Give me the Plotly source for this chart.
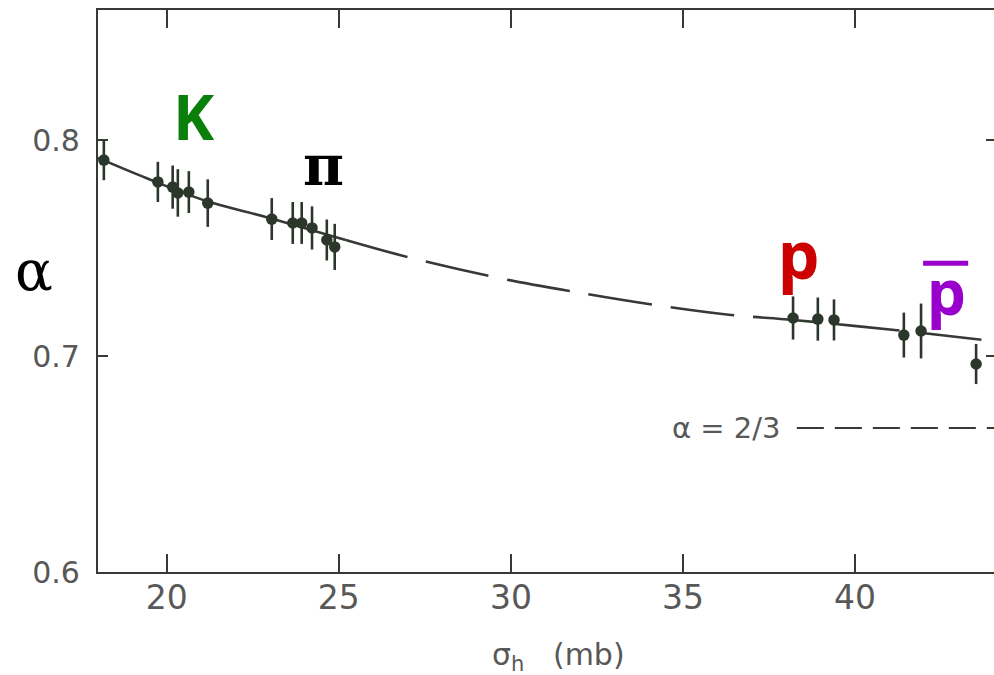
import plotly.graph_objects as go

# ---- data ----
k_x = [18.17, 19.74, 20.17, 20.32, 20.64, 21.19]
k_y = [0.7907, 0.7806, 0.7782, 0.7755, 0.7759, 0.7708]
k_err = [0.0093, 0.0093, 0.0100, 0.0110, 0.0097, 0.0110]

pi_x = [23.05, 23.66, 23.92, 24.22, 24.65, 24.88]
pi_y = [0.7634, 0.7616, 0.7616, 0.7593, 0.7537, 0.7505]
pi_err = [0.0097, 0.0097, 0.0097, 0.0100, 0.0095, 0.0107]

p_x = [38.20, 38.92, 39.39]
p_y = [0.7176, 0.7171, 0.7167]
p_err = [0.0100, 0.0100, 0.0095]

pbar_x = [41.42, 41.92, 43.52]
pbar_y = [0.7097, 0.7116, 0.6963]
pbar_err = [0.0104, 0.0127, 0.0093]

curve_x = [18.0, 19.4, 21.2, 22.9, 25.2, 27.0, 29.5, 31.7, 34.2, 36.4, 38.2, 41.4, 44.04]
curve_y = [0.7917, 0.7824, 0.7715, 0.7643, 0.7537, 0.7458, 0.7366, 0.7301, 0.7236, 0.7190, 0.7167, 0.7116, 0.7069]

guide_value = 2 / 3
guide_x = [38.31, 44.04]

x_ticks = [20, 25, 30, 35, 40]
y_ticks = [0.6, 0.7, 0.8]
y_tick_text = ["0.6", "0.7", "0.8"]

INK = "#353a35"
PT = "#2c372c"
TXT = "#585858"

fig = go.Figure()

# fitted curve: solid-looking left part, long dashes on the right
split = 4
fig.add_trace(go.Scatter(x=curve_x[:split + 1], y=curve_y[:split + 1], mode="lines",
                         line=dict(color=INK, width=2.6, shape="spline"),
                         showlegend=False, hoverinfo="skip"))
fig.add_trace(go.Scatter(x=curve_x[split:], y=curve_y[split:], mode="lines",
                         line=dict(color=INK, width=2.6, shape="spline", dash="64px,19px"),
                         showlegend=False, hoverinfo="skip"))

# alpha = 2/3 reference line
fig.add_trace(go.Scatter(x=guide_x, y=[guide_value] * len(guide_x), mode="lines",
                         line=dict(color=INK, width=2.2, dash="27px,11px"),
                         showlegend=False, hoverinfo="skip"))

for xs, ys, es, name in [(k_x, k_y, k_err, "K"), (pi_x, pi_y, pi_err, "π"),
                         (p_x, p_y, p_err, "p"), (pbar_x, pbar_y, pbar_err, "p̄")]:
    fig.add_trace(go.Scatter(
        x=xs, y=ys, mode="markers", name=name,
        marker=dict(color=PT, size=11.5, line=dict(width=0)),
        error_y=dict(type="data", array=es, visible=True, color=PT, thickness=2.6, width=0),
        showlegend=False))

# right-hand axis ticks (axis line itself is outside the picture)
fig.add_trace(go.Scatter(x=[None], y=[None], yaxis="y2", showlegend=False, hoverinfo="skip"))

# labels
fig.add_annotation(x=20.78, y=0.8111, xref="x", yref="y", text="<b>K</b>", showarrow=False,
                   font=dict(family="Noto Sans", size=62, color="#0a800a"))
fig.add_annotation(x=24.54, y=0.7884, xref="x", yref="y", text="<b>π</b>", showarrow=False,
                   font=dict(family="DejaVu Serif", size=56, color="#000000"))
fig.add_annotation(x=38.37, y=0.7476, xref="x", yref="y", text="<b>p</b>", showarrow=False,
                   font=dict(family="Noto Sans", size=66, color="#cc0000"))
fig.add_annotation(x=42.65, y=0.7300, xref="x", yref="y", text="<b>p</b>", showarrow=False,
                   font=dict(family="Noto Sans", size=62, color="#9a00cc"))
fig.add_shape(type="line", xref="x", yref="y", x0=41.98, x1=43.29, y0=0.7430, y1=0.7430,
              line=dict(color="#9a00cc", width=5))
fig.add_annotation(x=-0.0714, y=0.7394, xref="paper", yref="y", xanchor="center",
                   yanchor="middle", text="α", showarrow=False,
                   font=dict(family="DejaVu Serif", size=56, color="#000000"))
fig.add_annotation(x=36.26, y=guide_value, xref="x", yref="y", text="α = 2/3", showarrow=False,
                   font=dict(family="DejaVu Sans", size=29, color=TXT))
fig.add_annotation(x=0.5145, y=-0.1495, xref="paper", yref="paper", xanchor="center",
                   yanchor="middle", text="σ<sub>h</sub>   (mb)",
                   showarrow=False, font=dict(family="DejaVu Sans", size=30, color=TXT))

fig.update_layout(
    width=994, height=675,
    margin=dict(l=98, r=0, t=10, b=103),
    paper_bgcolor="white", plot_bgcolor="white",
    xaxis=dict(range=[18.0, 44.04], tickvals=x_ticks, ticks="inside", ticklen=18, tickwidth=2,
               tickcolor=INK, showline=True, linecolor=INK, linewidth=2.2, mirror="ticks",
               showgrid=False, zeroline=False, ticklabelstandoff=-5,
               tickfont=dict(family="DejaVu Sans", size=33, color=TXT)),
    yaxis=dict(range=[0.6, 0.8602], tickvals=y_ticks, ticktext=y_tick_text, ticks="inside",
               ticklen=10, tickwidth=2, tickcolor=INK, showline=True, linecolor=INK,
               linewidth=2.2, mirror=False, showgrid=False, zeroline=False,
               ticklabelstandoff=10,
               tickfont=dict(family="DejaVu Sans", size=30, color=TXT)),
    yaxis2=dict(range=[0.6, 0.8602], overlaying="y", side="right", tickvals=y_ticks,
                ticks="inside", ticklen=8, tickwidth=2, tickcolor=INK, showticklabels=False,
                showline=False, showgrid=False, zeroline=False),
)

fig.write_html("out.html", config={"displayModeBar": False},
               post_script="document.body.style.margin='0';document.body.style.overflow='hidden';")
